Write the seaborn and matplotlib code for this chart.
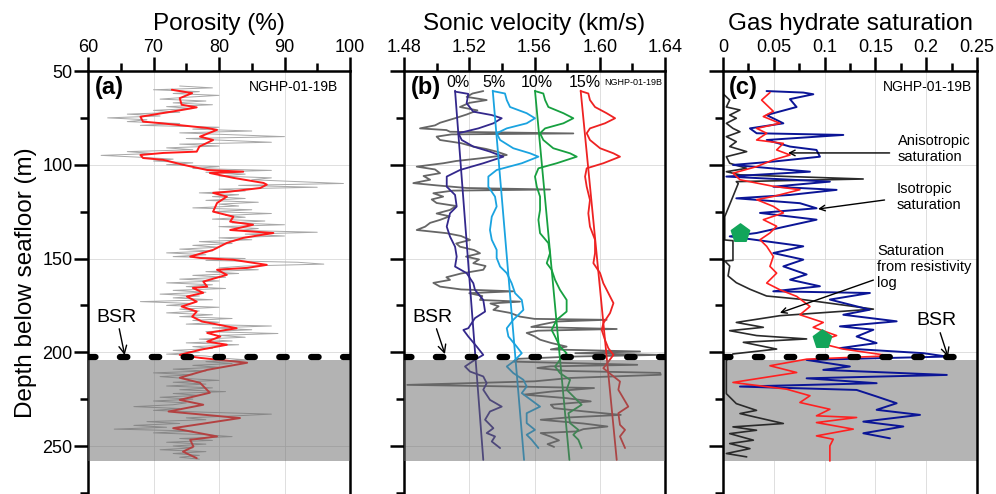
import matplotlib.pyplot as plt
import matplotlib.ticker as mticker
import seaborn as sns
import numpy as np

# ---- panel (a): porosity ----
por_red_depth = [60, 61.8, 64.5, 68, 69.4, 70.8, 74.4, 77, 77.8, 80.4, 81.4, 85, 86.8, 90.3, 93, 93.7,
                 94.8, 96.4, 97.4, 100, 102.8, 103.7, 104.4, 107, 109.7, 110.6, 112.4, 114.3, 115, 117,
                 120.4, 125, 127.7, 130.3, 132, 134.8, 136.4, 139, 141.7, 145.4, 149, 149.7, 150.7, 153.4,
                 155, 156, 158.7, 162.3, 165, 165.7, 168.3, 170.3, 173, 175.6, 178.3, 181, 183.6, 187.2,
                 189.7, 191.6, 194.3, 196, 198.7, 201.4, 203, 205.6, 209.4, 213.6, 216.3, 221.6, 225.4,
                 228, 231.6, 235.1, 240.5, 244.9, 246.7, 250.3, 253, 256.5]
por_red = [72.8, 75.9, 74, 74.3, 76.6, 74.3, 68, 68.4, 71, 78.2, 79.7, 77.1, 79.1, 77, 76.6, 71.5,
           68, 68.4, 71.5, 74.5, 78.2, 83.7, 78.6, 82.2, 86.8, 87.3, 86.3, 81.7, 79.1, 81.2,
           79.7, 79.1, 82.2, 81.7, 85.2, 81.7, 88.3, 83.7, 81.2, 79.1, 75.6, 77.1, 82.2, 87.3,
           84.3, 79.7, 81.2, 77.6, 78.2, 76, 77.6, 75.1, 76.6, 74.3, 76.6, 75.9, 77.4, 82.7,
           78.2, 80.2, 78.2, 81.2, 77.1, 74, 77.1, 84.3, 78.2, 74, 77.1, 78.6, 74,
           77.6, 72.3, 83.2, 73, 79.7, 75.6, 76.1, 74.5, 76.6]

por_raw_depth = list(range(58, 258))
por_raw = [74, 79, 70, 77, 73, 80, 75, 71, 78, 73,
           79, 72, 76, 70, 74, 66, 71, 63, 69, 66,
           74, 68, 80, 76, 85, 74, 82, 90, 75, 81,
           88, 74, 80, 72, 76, 66, 70, 62, 68, 73,
           70, 76, 72, 80, 76, 88, 78, 84, 80, 88,
           85, 92, 99, 83, 95, 80, 84, 77, 83, 79,
           84, 78, 86, 80, 83, 76, 85, 79, 88, 81,
           84, 79, 87, 82, 90, 80, 86, 83, 95, 84,
           90, 80, 85, 77, 82, 76, 80, 74, 79, 72,
           78, 73, 84, 78, 92, 96, 84, 80, 86, 78,
           83, 76, 81, 74, 80, 72, 79, 75, 81, 73,
           78, 71, 77, 73, 79, 68, 76, 72, 80, 74,
           77, 72, 79, 74, 82, 76, 80, 75, 88, 79,
           85, 78, 89, 80, 84, 77, 82, 75, 83, 76,
           79, 73, 77, 72, 78, 80, 84, 78, 82, 76,
           80, 73, 78, 70, 76, 71, 75, 80, 73, 78,
           72, 79, 74, 81, 73, 77, 71, 76, 70, 75,
           73, 67, 74, 70, 78, 88, 82, 75, 78, 69,
           74, 67, 72, 64, 76, 70, 78, 82, 74, 79,
           72, 78, 73, 76, 71, 78, 73, 77, 74, 77]

# ---- panel (b): sonic velocity ----
vp_raw_depth = [60.7, 62, 63.8, 65.5, 67, 69.2, 71, 73.2, 75, 77.6, 79, 80.6, 81.5, 82.4, 83.3, 83.8,
                85, 86.8, 88.5, 90.3, 91.5, 93, 94.8, 96.6, 98, 99.2, 101, 102.5, 104.5, 106, 108,
                109.8, 111, 112.4, 113.2, 113.8, 115.2, 117, 118.5, 120.4, 122, 124.1, 126, 127.5,
                129.4, 131, 133, 134.8, 136.5, 138, 140.1, 142, 143.7, 145.5, 147.2, 149, 150.5,
                152.5, 154, 156, 158, 160, 161.4, 163, 165, 166.5, 167.5, 168.5, 170, 172.1, 173,
                174, 175.5, 177.4, 179, 181, 182.2, 182.7, 183.6, 185.4, 186.5, 187.6, 188.5, 189.7,
                191.5, 193.3, 195, 197, 198.5, 199.6, 200.5, 201.4, 202.3, 203.5, 205, 206.7, 207.5,
                208.4, 210, 211, 212, 213.7, 215.5, 217.4, 218.3, 219.1, 221, 222.6, 224.5, 226.2,
                228, 229.8, 231.5, 233.4, 234.8, 236, 238, 239.6, 241, 242.2, 243.1, 245, 247, 249,
                250.5]
vp_raw = [1.5286, 1.522, 1.5184, 1.5307, 1.52, 1.5143, 1.525, 1.5184, 1.512, 1.5021, 1.499, 1.4898,
          1.506, 1.5082, 1.5838, 1.5092, 1.5, 1.5021, 1.515, 1.5225, 1.53, 1.5368, 1.543, 1.5266,
          1.512, 1.5041, 1.4878, 1.499, 1.5021, 1.492, 1.496, 1.4857, 1.5, 1.5184, 1.5695, 1.51,
          1.498, 1.504, 1.497, 1.5, 1.512, 1.5082, 1.5, 1.508, 1.5021, 1.496, 1.493, 1.4878,
          1.5062, 1.515, 1.5205, 1.512, 1.5143, 1.523, 1.5266, 1.518, 1.526, 1.5225, 1.53,
          1.5286, 1.515, 1.506, 1.5082, 1.498, 1.5021, 1.515, 1.547, 1.52, 1.528, 1.5266,
          1.5511, 1.533, 1.538, 1.5348, 1.545, 1.5511, 1.56, 1.6042, 1.5736, 1.5634, 1.558,
          1.6104, 1.562, 1.5552, 1.56, 1.5634, 1.57, 1.5797, 1.57, 1.6247, 1.585, 1.637, 1.5838,
          1.55, 1.5474, 1.623, 1.57, 1.5617, 1.58, 1.637, 1.6374, 1.5822, 1.56, 1.482, 1.55,
          1.5965, 1.57, 1.5536, 1.58, 1.5945, 1.57, 1.572, 1.59, 1.6129, 1.58, 1.5638, 1.59,
          1.6047, 1.59, 1.5863, 1.5638, 1.57, 1.575, 1.568, 1.572]

vp0_depth = [61, 62.2, 67.2, 71.7, 73.5, 75.2, 77.9, 80.6, 83.2, 86.8, 90.3, 93, 95.7, 99.2, 102.8,
             106.3, 111.7, 116.1, 122.3, 125.9, 133, 138.3, 143.7, 149, 154.3, 157.8, 163.2, 166.7,
             172.1, 178.3, 181.8, 187.2, 188.1, 191.6, 197, 201.4, 204, 207.6, 210.3, 212.9, 216.5,
             220, 225.4, 229, 231.6, 236, 240.5, 243.1, 244.9, 247.6, 251.1]
vp0 = [1.5113, 1.5194, 1.5184, 1.5225, 1.5338, 1.5399, 1.5348, 1.5256, 1.5133, 1.5154, 1.5225,
       1.5327, 1.5409, 1.5286, 1.5143, 1.5062, 1.5062, 1.5113, 1.5123, 1.5082, 1.5062, 1.5082,
       1.5113, 1.5123, 1.5113, 1.5184, 1.5225, 1.5235, 1.5286, 1.5297, 1.5235, 1.5194, 1.5164,
       1.5194, 1.5246, 1.5286, 1.5235, 1.5174, 1.5205, 1.5286, 1.5307, 1.5286, 1.5327, 1.5399,
       1.5327, 1.5297, 1.5348, 1.5307, 1.5358, 1.5338, 1.5389]

vp5_depth = [60.7, 62, 65.5, 69.2, 72.5, 75.2, 77.9, 80.6, 83.2, 86.8, 91.2, 93.9, 95.7, 99.2, 102.8,
             106.3, 111.7, 117, 122.3, 127.7, 134.8, 140, 145.4, 149.7, 154.3, 157.8, 163.2, 168.5,
             172.1, 177.4, 182.7, 187.2, 191.6, 197, 200.5, 205, 207.6, 211.1, 214.7, 218.3, 221.8,
             229, 232.5, 237.8, 241.4, 244, 246.7, 251.1]
vp5 = [1.5344, 1.5419, 1.543, 1.545, 1.5552, 1.5603, 1.5552, 1.543, 1.5368, 1.5389, 1.547, 1.5573,
       1.5624, 1.5522, 1.5368, 1.5317, 1.5317, 1.5358, 1.5368, 1.5338, 1.5327, 1.5338, 1.5368,
       1.5368, 1.5389, 1.543, 1.546, 1.5481, 1.5522, 1.5532, 1.547, 1.543, 1.544, 1.5491, 1.5522,
       1.547, 1.543, 1.547, 1.5532, 1.5552, 1.5522, 1.5634, 1.5552, 1.5552, 1.5603, 1.5552,
       1.5583, 1.5624]

vp10_depth = [60.7, 62, 65.5, 69.2, 72.5, 75.2, 77.9, 80.6, 83.2, 86.8, 91.2, 93.9, 95.7, 99.2, 101.9,
              106.3, 111.7, 117, 124.1, 129.4, 136.5, 141.8, 147.2, 152.5, 156, 161.4, 166.7, 172.1,
              178.3, 182.7, 188.1, 191.6, 197, 200.5, 204, 207.6, 211.1, 214.7, 220, 228, 232.5,
              237.8, 241.4, 244, 246.7, 251.1]
vp10 = [1.5603, 1.5654, 1.5665, 1.5685, 1.5777, 1.5838, 1.5777, 1.5665, 1.5634, 1.5654, 1.5715,
        1.5818, 1.5859, 1.5736, 1.5624, 1.5603, 1.5614, 1.5634, 1.5634, 1.5624, 1.5634, 1.5685,
        1.5695, 1.5675, 1.5705, 1.5726, 1.5756, 1.5797, 1.5797, 1.5736, 1.5705, 1.5726, 1.5756,
        1.5797, 1.5756, 1.5726, 1.5756, 1.5818, 1.5797, 1.5889, 1.5808, 1.5818, 1.5869, 1.5838,
        1.5869, 1.5889]

vp15_depth = [60.7, 62, 65.5, 69.2, 72.5, 75.2, 77.9, 80.6, 83.2, 86.8, 91.2, 93.9, 95.7, 99.2, 101.9,
              106.3, 111.7, 118.8, 125.9, 133, 140, 147.2, 152.5, 157.8, 163.2, 168.5, 173.8, 179.1,
              184.5, 188.1, 193.4, 197.9, 201.4, 205, 208.5, 212.1, 215.6, 220, 229, 232.5, 238.7,
              241.4, 244.9, 251.1]
vp15 = [1.5883, 1.593, 1.594, 1.5971, 1.6042, 1.6094, 1.6032, 1.594, 1.592, 1.594, 1.6002, 1.6084,
        1.6124, 1.6022, 1.592, 1.591, 1.592, 1.594, 1.593, 1.594, 1.5971, 1.5971, 1.5961, 1.6002,
        1.6022, 1.6053, 1.6084, 1.6063, 1.6022, 1.6012, 1.6032, 1.6053, 1.6084, 1.6053, 1.6022,
        1.6073, 1.6124, 1.6114, 1.6175, 1.6114, 1.6124, 1.6155, 1.6124, 1.6155]

trend_depth = [60.5, 257.4]
trend_0 = [1.5113, 1.5286]
trend_5 = [1.5344, 1.5536]
trend_10 = [1.5603, 1.5814]
trend_15 = [1.5883, 1.6104]

# ---- panel (c): gas hydrate saturation ----
sh_res_depth = [62.1, 65.5, 69.2, 70.8, 73.5, 75.2, 77.9, 80.6, 82.4, 85, 87.7, 90.3, 93, 95.7, 99.2,
                101.9, 103.7, 105.4, 107.6, 109, 110, 127.7, 140.1, 140.5, 151, 151.3, 154, 159.3,
                162.9, 166.4, 170, 171.7, 177, 180.5, 184.1, 186.7, 188.5, 191.1, 192.9, 194.7, 198.3,
                200.9, 204.4, 222.1, 227.4, 231, 232.7, 238, 239.8, 241.6, 243.4, 246.9, 248.7,
                251.4, 254, 255.8]
sh_res = [0.0, 0.0066, 0.0033, 0.0167, 0.0066, 0.0131, 0.0033, 0.0098, 0.0167, 0.0033, 0.0131,
          0.0066, 0.0233, 0.0033, 0.0066, 0.0233, 0.0033, 0.0167, 0.138, 0.0131, 0.015, 0.0017,
          0.0017, 0.0098, 0.0098, 0.0017, 0.0066, 0.005, 0.0131, 0.0265, 0.0429, 0.0757, 0.148,
          0.056, 0.0131, 0.0397, 0.0066, 0.0331, 0.0823, 0.02, 0.0528, 0.0098, 0.0033, 0.0033,
          0.0131, 0.033, 0.0167, 0.0594, 0.0098, 0.033, 0.0066, 0.0299, 0.0066, 0.0265, 0.0033,
          0.0233]

sh_aniso_depth = [61.5, 65.5, 71.5, 74.3, 77.9, 80.6, 83.2, 86.8, 88.6, 92.1, 94.8, 97.4, 101, 104.5,
                  108, 111.5, 113.3, 116.9, 118.6, 122.2, 125.7, 129.3, 132.8, 136.4, 140, 143.5,
                  148.9, 154.2, 157.8, 163.1, 166.7, 170.2, 175.6, 180, 184.1, 186.7, 191.1, 194.7,
                  198.3, 201.9, 203.7, 207.2, 210.8, 216.1, 219.7, 223.2, 226.8, 230.4, 233.9, 234.8,
                  237.5, 241, 244.6, 246.4, 249.9, 258]
sh_aniso = [0.0462, 0.038, 0.0495, 0.0397, 0.0561, 0.0331, 0.043, 0.0331, 0.0594, 0.0528, 0.066,
            0.0495, 0.0331, 0.0098, 0.0167, 0.0495, 0.0757, 0.0495, 0.0331, 0.0495, 0.0594, 0.0397,
            0.0528, 0.0462, 0.0364, 0.043, 0.0495, 0.0462, 0.0528, 0.043, 0.0561, 0.0725, 0.0856,
            0.0757, 0.0987, 0.0888, 0.1118, 0.092, 0.1184, 0.1644, 0.0823, 0.0462, 0.0725, 0.0098,
            0.0627, 0.0856, 0.0757, 0.1052, 0.092, 0.1315, 0.092, 0.1282, 0.092, 0.1085, 0.1052,
            0.1052]

sh_iso_depth = [60.7, 61.5, 62.4, 65, 69.2, 73.5, 77.9, 80.6, 83.2, 84.1, 86.8, 90.3, 92.1, 95.7, 98.3,
                100.1, 103.7, 106.3, 109, 111.7, 113.4, 116.1, 117.9, 120.5, 123.2, 125.7, 129.3,
                132.8, 136.4, 138.2, 143.5, 147.1, 150.6, 154.2, 158.5, 161.3, 164.8, 167.5, 168.4,
                171.9, 177.3, 180, 183.5, 186.2, 188, 191.6, 195.1, 197.8, 200.5, 202.3, 204.1,
                207.6, 209.4, 212.1, 213.9, 216.5, 218.3, 220.1, 223.6, 227.2, 230.7, 233.4, 237,
                239.6, 243.2, 245.9]
sh_iso = [0.0429, 0.079, 0.0889, 0.0659, 0.0724, 0.0429, 0.0594, 0.0265, 0.0331, 0.1184, 0.043,
          0.0659, 0.092, 0.0954, 0.0495, 0.0098, 0.0856, 0.0033, 0.1052, 0.0495, 0.1118, 0.066,
          0.0131, 0.0757, 0.0921, 0.0364, 0.0921, 0.0627, 0.0331, 0.0066, 0.079, 0.0495, 0.079,
          0.0594, 0.0823, 0.066, 0.0954, 0.0495, 0.1446, 0.1052, 0.1446, 0.1184, 0.1709, 0.1151,
          0.148, 0.1315, 0.1512, 0.1151, 0.1973, 0.2203, 0.0823, 0.1249, 0.0987, 0.2203, 0.0823,
          0.1512, 0.0167, 0.1315, 0.1512, 0.1709, 0.1512, 0.1939, 0.1381, 0.1775, 0.1381, 0.1643]

core_depth = [136.4, 192.9]
core_sh = [0.0164, 0.0971]

BSR_DEPTH = 202.5

sns.set_style("ticks")
plt.rcParams['font.family'] = ['Liberation Sans', 'DejaVu Sans']
plt.rcParams.update({"text.color": "black", "axes.edgecolor": "black",
                     "axes.labelcolor": "black", "xtick.color": "black",
                     "ytick.color": "black"})

fig = plt.figure(figsize=(9.96, 4.94), dpi=100)
H = 423 / 494
ax_a = fig.add_axes([88 / 996, 0, 262 / 996, H])
ax_b = fig.add_axes([404 / 996, 0, 261 / 996, H])
ax_c = fig.add_axes([723 / 996, 0, 254 / 996, H])


def style_axis(ax, xlim, xmaj, xmin, title, fmt):
    ax.set_ylim(275.6, 50)
    ax.set_xlim(*xlim)
    ax.xaxis.tick_top()
    ax.xaxis.set_label_position("top")
    ax.xaxis.set_major_locator(mticker.MultipleLocator(xmaj))
    ax.xaxis.set_minor_locator(mticker.MultipleLocator(xmin))
    ax.xaxis.set_major_formatter(mticker.FuncFormatter(fmt))
    ax.yaxis.set_major_locator(mticker.MultipleLocator(50))
    ax.yaxis.set_minor_locator(mticker.MultipleLocator(25))
    ax.tick_params(which="major", length=10, width=1.8, labelsize=13, pad=1, colors="black")
    ax.tick_params(which="minor", length=6, width=1.8, colors="black")
    ax.tick_params(axis="x", which="both", top=True, bottom=False)
    ax.set_xlabel(title, fontsize=17.5, labelpad=6, color="black")
    ax.set_ylabel("")
    for s in ["top", "left", "right"]:
        ax.spines[s].set_linewidth(1.8)
        ax.spines[s].set_color("black")
        ax.spines[s].set_visible(True)
    ax.spines["bottom"].set_visible(False)
    ax.grid(True, which="major", color="#d9d9d9", lw=0.6, zorder=0)
    ax.set_axisbelow(True)


style_axis(ax_a, (60, 100), 10, 5, "Porosity (%)", lambda v, p: f"{v:.0f}")
style_axis(ax_b, (1.48, 1.64), 0.04, 0.02, "Sonic velocity (km/s)", lambda v, p: f"{v:.2f}")
style_axis(ax_c, (0, 0.25), 0.05, 0.025, "Gas hydrate saturation", lambda v, p: f"{v:g}")
ax_b.tick_params(axis="y", labelleft=False)
ax_c.tick_params(axis="y", labelleft=False)
ax_a.set_ylabel("Depth below seafloor (m)", fontsize=17.5, labelpad=4, color="black")

# (a)
sns.lineplot(x=por_raw, y=por_raw_depth, orient="y", sort=False, estimator=None,
             color="#a8a8a8", lw=0.7, ax=ax_a, zorder=2)
sns.lineplot(x=por_red, y=por_red_depth, orient="y", sort=False, estimator=None,
             color="#ff1a1a", lw=1.4, ax=ax_a, zorder=2.5)

# (b)
sns.lineplot(x=vp_raw, y=vp_raw_depth, orient="y", sort=False, estimator=None,
             color="#666666", lw=1.3, ax=ax_b, zorder=2)
for d, v, c in [(vp0_depth, vp0, "#33288c"), (vp5_depth, vp5, "#1aa3e0"),
                (vp10_depth, vp10, "#17a040"), (vp15_depth, vp15, "#ee2222")]:
    sns.lineplot(x=v, y=d, orient="y", sort=False, estimator=None, color=c, lw=1.3,
                 ax=ax_b, zorder=2.5)
for t, c in [(trend_0, "#33288c"), (trend_5, "#1aa3e0"), (trend_10, "#17a040"),
             (trend_15, "#ee2222")]:
    sns.lineplot(x=t, y=trend_depth, orient="y", sort=False, estimator=None, color=c,
                 lw=1.3, ax=ax_b, zorder=2.5)

# (c)
sns.lineplot(x=sh_res, y=sh_res_depth, orient="y", sort=False, estimator=None,
             color="#2a2a2a", lw=1.2, ax=ax_c, zorder=2)
sns.lineplot(x=sh_iso, y=sh_iso_depth, orient="y", sort=False, estimator=None,
             color="#0b1596", lw=1.4, ax=ax_c, zorder=2.3)
sns.lineplot(x=sh_aniso, y=sh_aniso_depth, orient="y", sort=False, estimator=None,
             color="#ff2020", lw=1.2, ax=ax_c, zorder=2.4)
sns.scatterplot(x=core_sh, y=core_depth, marker="p", s=190, color="#12a55a",
                edgecolor="#12a55a", ax=ax_c, zorder=5)

# shading below BSR and BSR line
for ax, over in [(ax_a, True), (ax_b, True), (ax_c, False)]:
    if over:
        ax.axhspan(204, 258, color="#696969", alpha=0.5, lw=0, zorder=3)
    else:
        ax.axhspan(204, 258, color="#b4b4b4", lw=0, zorder=1)
    ax.axhline(BSR_DEPTH, color="black", lw=4.5, dashes=(1.2, 3.9),
               dash_capstyle="round", zorder=4)

# labels
for ax, lab in [(ax_a, "(a)"), (ax_b, "(b)"), (ax_c, "(c)")]:
    ax.text(0.025, 0.962, lab, transform=ax.transAxes, fontsize=17, fontweight="bold",
            va="center", ha="left", zorder=6)
ax_a.text(0.955, 0.963, "NGHP-01-19B", transform=ax_a.transAxes, fontsize=10, ha="right",
          va="center", zorder=6)
ax_b.text(0.99, 0.972, "NGHP-01-19B", transform=ax_b.transAxes, fontsize=6.5, ha="right",
          va="center", zorder=6)
ax_c.text(0.98, 0.962, "NGHP-01-19B", transform=ax_c.transAxes, fontsize=10, ha="right",
          va="center", zorder=6)
for v, lab in [(1.5131, "0%"), (1.5352, "5%"), (1.5615, "10%"), (1.591, "15%")]:
    ax_b.text(v, 0.972, lab, transform=ax_b.get_xaxis_transform(), fontsize=11.5,
              ha="center", va="center", zorder=6)

arrow = dict(arrowstyle="->", lw=1.0, color="black", shrinkA=0, shrinkB=0)
ax_a.annotate("BSR", xy=(65.6, 201.5), xytext=(64.4, 181.2), fontsize=14, ha="center",
              va="center", arrowprops=arrow, zorder=6)
ax_b.annotate("BSR", xy=(1.5051, 201), xytext=(1.4975, 181.2), fontsize=14, ha="center",
              va="center", arrowprops=arrow, zorder=6)
ax_c.annotate("BSR", xy=(0.2215, 202.5), xytext=(0.21, 183.3), fontsize=14, ha="center",
              va="center", arrowprops=arrow, zorder=6)
ax_c.annotate("", xy=(0.064, 93.7), xytext=(0.164, 93.7), arrowprops=arrow, zorder=6)
ax_c.text(0.172, 91.5, "Anisotropic\nsaturation", fontsize=10.5, ha="left", va="center",
          linespacing=1.2, zorder=6)
ax_c.annotate("", xy=(0.0935, 123.6), xytext=(0.159, 118.8), arrowprops=arrow, zorder=6)
ax_c.text(0.171, 117, "Isotropic\nsaturation", fontsize=10.5, ha="left", va="center",
          linespacing=1.2, zorder=6)
ax_c.annotate("", xy=(0.056, 179), xytext=(0.148, 161.5), arrowprops=arrow, zorder=6)
ax_c.text(0.152, 154.5, "Saturation\nfrom resistivity\nlog", fontsize=10.5, ha="left",
          va="center", linespacing=1.2, zorder=6)

for ax in (ax_a, ax_b, ax_c):
    if ax.get_legend() is not None:
        ax.get_legend().remove()

plt.savefig("out.png", dpi=100)
